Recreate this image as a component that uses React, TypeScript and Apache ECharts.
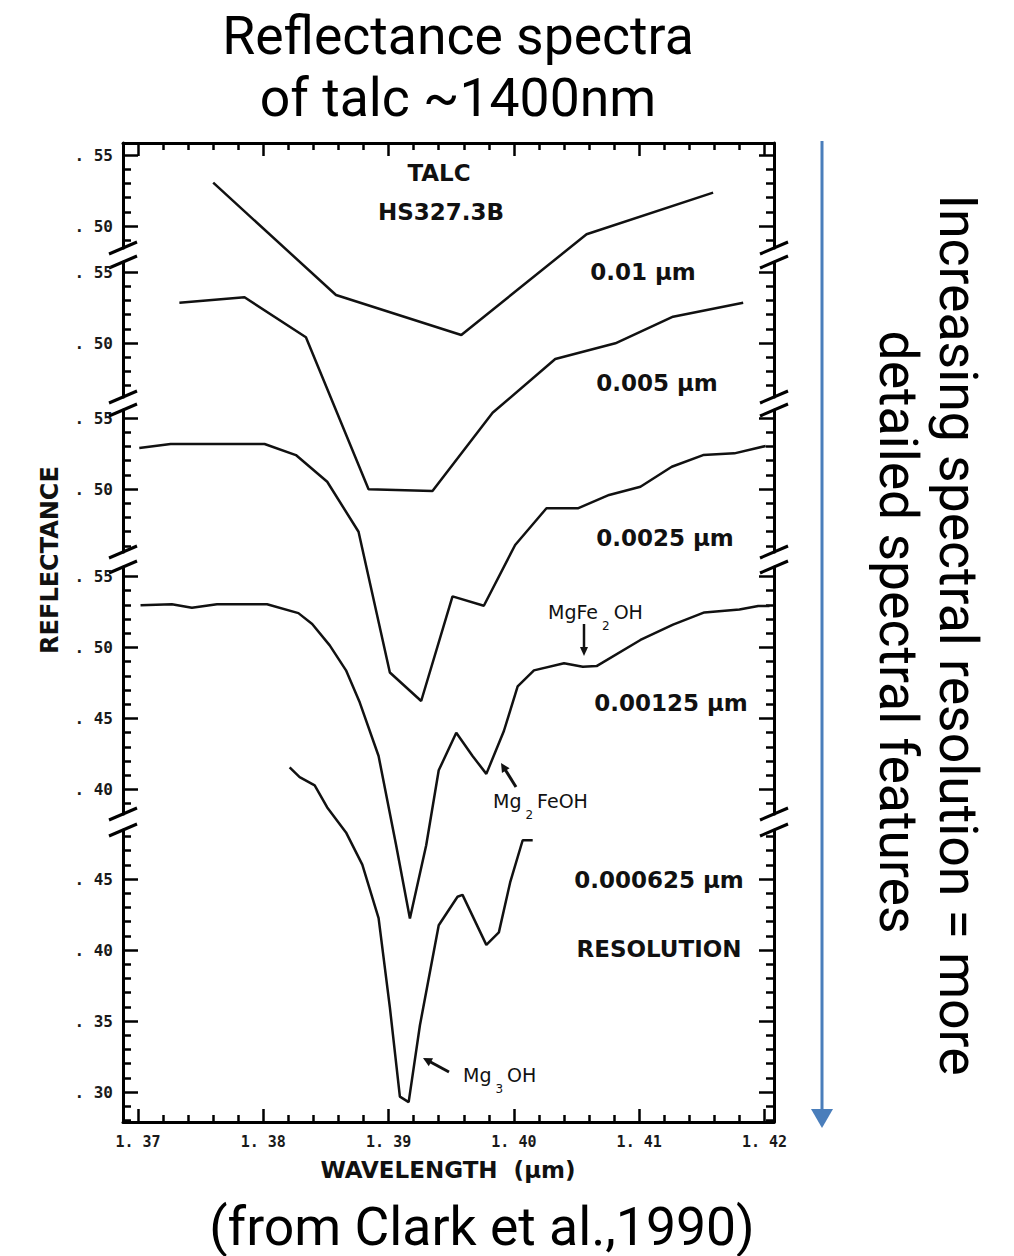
import React, { useEffect, useRef } from "react";
import * as echarts from "echarts";

// ---------- DATA ----------
const xMajorTicks = [1.37, 1.38, 1.39, 1.4, 1.41, 1.42];
const yMajorTicks = [
  [0.55, 0.5],
  [0.55, 0.5],
  [0.55, 0.5],
  [0.55, 0.5, 0.45, 0.4],
  [0.45, 0.4, 0.35, 0.3],
];
const resolutionLabels = ["0.01 µm", "0.005 µm", "0.0025 µm", "0.00125 µm", "0.000625 µm"];

// 0.01 µm resolution
const curve1X = [1.376, 1.3858, 1.3958, 1.4058, 1.4159];
const curve1Y = [0.5305, 0.4514, 0.4232, 0.4942, 0.5235];

// 0.005 µm resolution
const curve2X = [1.3733, 1.3785, 1.3834, 1.3884, 1.3935, 1.3983, 1.4033, 1.4081, 1.4127, 1.4183];
const curve2Y = [0.5284, 0.5322, 0.504, 0.397, 0.3958, 0.4509, 0.4887, 0.4998, 0.5185, 0.5284];

// 0.0025 µm resolution
const curve3X = [
  1.3701, 1.3726, 1.3751, 1.3776, 1.3801, 1.3826, 1.3851, 1.3876, 1.3901, 1.3926, 1.3951,
  1.3976, 1.4001, 1.4026, 1.4051, 1.4076, 1.4101, 1.4126, 1.4151, 1.4176, 1.4201,
];
const curve3Y = [
  0.5289, 0.5317, 0.5317, 0.5317, 0.5317, 0.5239, 0.5051, 0.4699, 0.3708, 0.3507, 0.4244,
  0.4178, 0.4606, 0.4864, 0.4864, 0.4958, 0.5016, 0.5157, 0.5239, 0.5251, 0.5303,
];

// 0.00125 µm resolution
const curve4X = [
  1.3702, 1.3727, 1.3743, 1.3763, 1.3803, 1.3828, 1.3839, 1.3853, 1.3866, 1.3877, 1.3892,
  1.3906, 1.3917, 1.393, 1.394, 1.3954, 1.3967, 1.3978, 1.3992, 1.4003, 1.4016, 1.404,
  1.4055, 1.4066, 1.4101, 1.4127, 1.4152, 1.418, 1.4195, 1.4204,
];
const curve4Y = [
  0.5297, 0.5305, 0.528, 0.5305, 0.5305, 0.5242, 0.5166, 0.5015, 0.4839, 0.4612, 0.4236,
  0.3607, 0.3091, 0.3607, 0.4135, 0.4399, 0.4236, 0.411, 0.4412, 0.4726, 0.4839, 0.4889,
  0.4865, 0.4869, 0.5053, 0.5161, 0.5247, 0.5267, 0.5292, 0.5292,
];

// 0.000625 µm resolution
const curve5X = [
  1.3821, 1.3829, 1.3841, 1.3851, 1.3866, 1.3879, 1.3892, 1.3901, 1.3909, 1.3916, 1.3925,
  1.394, 1.3955, 1.3959, 1.3978, 1.3988, 1.3997, 1.4007, 1.4015,
];
const curve5Y = [
  0.5286, 0.5218, 0.516, 0.5004, 0.4828, 0.4601, 0.4225, 0.3596, 0.2967, 0.2929, 0.347,
  0.4174, 0.4375, 0.4388, 0.4036, 0.4124, 0.4476, 0.4773, 0.4773,
];

const curvesX = [curve1X, curve2X, curve3X, curve4X, curve5X];
const curvesY = [curve1Y, curve2Y, curve3Y, curve4Y, curve5Y];

// ---------- LAYOUT ----------
const W = 1014;
const H = 1256;
const PLOT_LEFT = 123;
const PLOT_RIGHT = 774;
const X_MIN = 1.3688;
const X_MAX = 1.42076;
const PX_PER_UNIT = 1420; // reflectance scale, same in every panel
const panels = [
  { top: 143, bottom: 248, anchorPx: 155, anchorV: 0.55 },
  { top: 262, bottom: 397, anchorPx: 272, anchorV: 0.55 },
  { top: 410, bottom: 552, anchorPx: 418, anchorV: 0.55 },
  { top: 567, bottom: 814, anchorPx: 683, anchorV: 0.475 },
  { top: 830, bottom: 1122, anchorPx: 985.5, anchorV: 0.375 },
];
const breakYs = [248, 262, 397, 410, 552, 567, 814, 830];

function stepTicks(min: number, max: number, step: number, skip: number) {
  const out: number[] = [];
  const start = Math.ceil(min / step - 1e-9);
  for (let k = start; k * step <= max + 1e-9; k++) {
    const v = Math.round(k * step * 100000) / 100000;
    const r = v / skip;
    if (Math.abs(r - Math.round(r)) > 1e-6) out.push(v);
  }
  return out;
}

function arrowEls(x1: number, y1: number, x2: number, y2: number, color: string, lw: number, head: number, half: number) {
  const dx = x2 - x1;
  const dy = y2 - y1;
  const len = Math.sqrt(dx * dx + dy * dy);
  const ux = dx / len;
  const uy = dy / len;
  const bx = x2 - ux * head;
  const by = y2 - uy * head;
  return [
    { type: "line", shape: { x1, y1, x2: bx + ux * 1, y2: by + uy * 1 }, style: { stroke: color, lineWidth: lw } },
    {
      type: "polygon",
      shape: { points: [[x2, y2], [bx - uy * half, by + ux * half], [bx + uy * half, by - ux * half]] },
      style: { fill: color },
    },
  ];
}

const ink = "#111";
const mono = "DejaVu Sans Mono";
const xTickFont = { fontFamily: mono, fontSize: 15, fontWeight: "bold" as const, color: "#1a1a1a" };
const yTickFont = { fontFamily: mono, fontSize: 16, fontWeight: "bold" as const, color: "#1a1a1a" };

function buildOption() {
  const xMinor = stepTicks(X_MIN, X_MAX, 0.002, 0.01);
  const grids = panels.map((p) => ({ left: PLOT_LEFT, width: PLOT_RIGHT - PLOT_LEFT, top: p.top, height: p.bottom - p.top }));

  const xAxes: any[] = panels.map((p, i) => ({
    type: "value",
    gridIndex: i,
    min: X_MIN,
    max: X_MAX,
    position: i === 0 ? "top" : "bottom",
    show: i === 0 || i === panels.length - 1,
    axisLine: { show: true, onZero: false, lineStyle: { color: "#000", width: 3 } },
    axisTick: { show: true, inside: true, length: 13, customValues: xMajorTicks, lineStyle: { color: "#000", width: 2.5 } },
    axisLabel: {
      show: i === panels.length - 1,
      customValues: xMajorTicks,
      formatter: (v: number) => v.toFixed(2).replace(".", ". "),
      margin: 12,
      ...xTickFont,
    },
    splitLine: { show: false },
  }));
  [0, panels.length - 1].forEach((gi) => {
    xAxes.push({
      type: "value",
      gridIndex: gi,
      min: X_MIN,
      max: X_MAX,
      position: gi === 0 ? "top" : "bottom",
      axisLine: { show: false, onZero: false },
      axisTick: { show: true, inside: true, length: 7, customValues: xMinor, lineStyle: { color: "#000", width: 2.5 } },
      axisLabel: { show: false },
      splitLine: { show: false },
    });
  });

  const yAxes: any[] = [];
  panels.forEach((p, i) => {
    const min = p.anchorV - (p.bottom - p.anchorPx) / PX_PER_UNIT;
    const max = p.anchorV + (p.anchorPx - p.top) / PX_PER_UNIT;
    const major = yMajorTicks[i];
    const minor = stepTicks(min, max, 0.01, 0.05);
    ["left", "right"].forEach((pos) => {
      yAxes.push({
        type: "value",
        gridIndex: i,
        min,
        max,
        position: pos,
        axisLine: { show: true, onZero: false, lineStyle: { color: "#000", width: 3 } },
        axisTick: { show: true, inside: true, length: 15, customValues: major, lineStyle: { color: "#000", width: 2.5 } },
        axisLabel: {
          show: pos === "left",
          customValues: major,
          formatter: (v: number) => ". " + Math.round(v * 100),
          margin: 10,
          ...yTickFont,
        },
        splitLine: { show: false },
      });
      yAxes.push({
        type: "value",
        gridIndex: i,
        min,
        max,
        position: pos,
        axisLine: { show: false, onZero: false },
        axisTick: { show: true, inside: true, length: 8, customValues: minor, lineStyle: { color: "#000", width: 2.5 } },
        axisLabel: { show: false },
        splitLine: { show: false },
      });
    });
  });

  const series = curvesX.map((xs, i) => ({
    type: "line",
    name: resolutionLabels[i],
    xAxisIndex: i,
    yAxisIndex: i * 4,
    data: xs.map((x, j) => [x, curvesY[i][j]]),
    showSymbol: false,
    symbol: "none",
    clip: false,
    smooth: false,
    lineStyle: { color: ink, width: 2.5 },
    z: 5,
  }));

  const dv = "DejaVu Sans, sans-serif";
  const labelStyle = (text: string) => ({
    text,
    fontFamily: dv,
    fontSize: 23,
    fontWeight: "bold",
    fill: ink,
    align: "center",
    verticalAlign: "middle",
  });
  const resPos = [
    [643, 272],
    [657, 383],
    [665, 538],
    [671, 703],
    [659, 880],
  ];

  const richAnno = (text: string) => ({
    text,
    align: "left",
    verticalAlign: "middle",
    rich: {
      m: { fontFamily: dv, fontSize: 19, lineHeight: 40, verticalAlign: "middle", fill: ink },
      s: { fontFamily: dv, fontSize: 12, lineHeight: 40, verticalAlign: "bottom", fill: ink, padding: [0, 4, 0, 4] },
    },
  });

  const big = { fontFamily: "Roboto", fontSize: 53.5, lineHeight: 54, fill: "#000", align: "center", verticalAlign: "middle" };
  const elements: any[] = [];
  // titles
  elements.push({ type: "text", x: 458, y: 35, style: { text: "Reflectance spectra", ...big } });
  elements.push({ type: "text", x: 458, y: 97, style: { text: "of talc ~1400nm", ...big } });
  elements.push({ type: "text", x: 482, y: 1226, style: { text: "(from Clark et al.,1990)", ...big } });
  elements.push({ type: "text", x: 958, y: 635, rotation: -Math.PI / 2, style: { text: "Increasing spectral resolution = more", ...big } });
  elements.push({ type: "text", x: 898, y: 632, rotation: -Math.PI / 2, style: { text: "detailed spectral features", ...big } });
  // blue arrow
  const blue = "#4a7ebb";
  elements.push({ type: "line", shape: { x1: 822, y1: 141, x2: 822, y2: 1112 }, style: { stroke: blue, lineWidth: 3 } });
  elements.push({ type: "polygon", shape: { points: [[811, 1109], [833, 1109], [822, 1128]] }, style: { fill: blue } });
  // axis names
  elements.push({ type: "text", x: 50, y: 560, rotation: Math.PI / 2, style: { text: "REFLECTANCE", fontFamily: dv, fontSize: 24, fontWeight: "bold", fill: ink, align: "center", verticalAlign: "middle" } });
  elements.push({ type: "text", x: 448, y: 1170, style: { text: "WAVELENGTH  (µm)", fontFamily: dv, fontSize: 23, fontWeight: "bold", fill: ink, align: "center", verticalAlign: "middle" } });
  // sample label
  elements.push({ type: "text", x: 439, y: 173, style: labelStyle("TALC") });
  elements.push({ type: "text", x: 441, y: 212, style: labelStyle("HS327.3B") });
  resolutionLabels.forEach((t, i) => {
    elements.push({ type: "text", x: resPos[i][0], y: resPos[i][1], style: labelStyle(t) });
  });
  elements.push({ type: "text", x: 659, y: 949, style: labelStyle("RESOLUTION") });
  // annotations
  elements.push({ type: "text", x: 548, y: 612, style: richAnno("{m|MgFe}{s|2}{m|OH}") });
  elements.push({ type: "text", x: 493, y: 801, style: richAnno("{m|Mg}{s|2}{m|FeOH}") });
  elements.push({ type: "text", x: 463, y: 1075, style: richAnno("{m|Mg}{s|3}{m|OH}") });
  elements.push(...arrowEls(584, 624, 584, 656, ink, 2.5, 9, 4));
  elements.push(...arrowEls(516, 787, 501, 763, ink, 3, 9, 4.5));
  elements.push(...arrowEls(449, 1072, 423, 1058, ink, 3, 9, 4.5));
  // axis break marks
  breakYs.forEach((y) => {
    [PLOT_LEFT, PLOT_RIGHT].forEach((ax) => {
      elements.push({ type: "line", shape: { x1: ax - 14, y1: y + 6, x2: ax + 14, y2: y - 6 }, style: { stroke: "#000", lineWidth: 3 } });
    });
  });

  return {
    animation: false,
    backgroundColor: "#fff",
    grid: grids,
    xAxis: xAxes,
    yAxis: yAxes,
    series,
    graphic: { elements },
  };
}

export default function App() {
  const ref = useRef<HTMLDivElement>(null);
  useEffect(() => {
    if (!ref.current) return;
    const chart = echarts.init(ref.current, undefined, { renderer: "svg", width: W, height: H });
    chart.setOption(buildOption() as any);
    return () => chart.dispose();
  }, []);
  return (
    <div
      ref={ref}
      style={{ position: "fixed", left: 0, top: 0, width: W, height: H, background: "#fff" }}
    />
  );
}
